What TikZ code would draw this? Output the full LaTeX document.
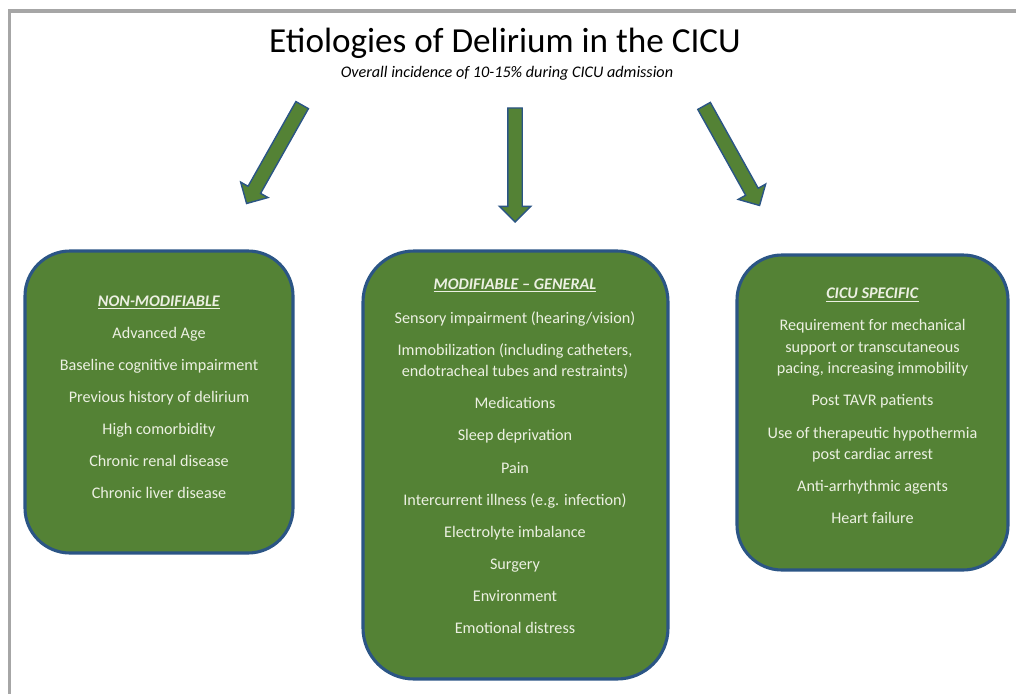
\documentclass[tikz,border=0pt]{standalone}
\usepackage{fontspec}
\setmainfont{Carlito}
\usepackage{tikz}
\usetikzlibrary{shapes.arrows,positioning}
\definecolor{boxgreen}{HTML}{548235}
\definecolor{boxblue}{HTML}{2B5585}
\definecolor{itemtext}{HTML}{ECF0E2}
\definecolor{framegray}{HTML}{A6A6A6}
\newlength\unitpx
\setlength\unitpx{0.025cm}
\newcommand{\heading}[1]{\underline{\textbf{\textit{#1}}}}
\tikzset{
  catbox/.style={draw=boxblue, line width=2.2pt, fill=boxgreen, rounded corners=45\unitpx},
  catitems/.style={text=itemtext, align=center, font=\fontsize{11.5}{15.3}\selectfont, inner sep=0pt},
  blockarrow/.style={single arrow, draw=boxblue, line width=1pt, fill=boxgreen, inner sep=6.5\unitpx,
    single arrow head extend=8.5\unitpx, anchor=tail}
}

\begin{document}
\begin{tikzpicture}[x=1\unitpx, y=-1\unitpx]
\useasboundingbox (0,0) rectangle (1016,694);
% page frame
\draw[framegray, line width=2.2pt] (9.5,694) -- (9.5,11) -- (1016,11);

% title
\node[font=\fontsize{25}{30}\selectfont] (title) at (505,43) {Etiologies of Delirium in the CICU};
\node[font=\fontsize{11.5}{13}\selectfont\itshape] (subtitle) at (507,73) {Overall incidence of 10-15\% during CICU admission};

% arrows
\node[blockarrow, rotate=-119.45, minimum height=113\unitpx] (arrnonmod) at (302.5,104.5) {};
\node[blockarrow, rotate=-90, minimum height=114\unitpx] (arrgeneral) at (515,107.3) {};
\node[blockarrow, rotate=-60.85, minimum height=114\unitpx] (arrcicu) at (703.7,105.3) {};

% boxes
\node[catbox, minimum width=268\unitpx, minimum height=302\unitpx] (nonmod) at (159,402) {};
\node[catbox, minimum width=305\unitpx, minimum height=428\unitpx, rounded corners=51\unitpx] (general) at (515.5,465) {};
\node[catbox, minimum width=271\unitpx, minimum height=315\unitpx] (cicu) at (872.5,412.5) {};

\node[catitems] (nonmodtxt) at (159,397) {\heading{NON-MODIFIABLE}\\[7.5pt]
  Advanced Age\\[7.5pt]
  Baseline cognitive impairment\\[7.5pt]
  Previous history of delirium\\[7.5pt]
  High comorbidity\\[7.5pt]
  Chronic renal disease\\[7.5pt]
  Chronic liver disease};

\node[catitems] (generaltxt) at (515,456) {\heading{MODIFIABLE -- GENERAL}\\[9pt]
  Sensory impairment (hearing/vision)\\[7.5pt]
  Immobilization (including catheters,\\
  endotracheal tubes and restraints)\\[7.5pt]
  Medications\\[7.5pt]
  Sleep deprivation\\[7.5pt]
  Pain\\[7.5pt]
  Intercurrent illness (e.g. infection)\\[7.5pt]
  Electrolyte imbalance\\[7.5pt]
  Surgery\\[7.5pt]
  Environment\\[7.5pt]
  Emotional distress};

\node[catitems] (cicutxt) at (872.5,406) {\heading{CICU SPECIFIC}\\[7.5pt]
  Requirement for mechanical\\
  support or transcutaneous\\
  pacing, increasing immobility\\[7.5pt]
  Post TAVR patients\\[7.5pt]
  Use of therapeutic hypothermia\\
  post cardiac arrest\\[7.5pt]
  Anti-arrhythmic agents\\[7.5pt]
  Heart failure};
\end{tikzpicture}
\end{document}
